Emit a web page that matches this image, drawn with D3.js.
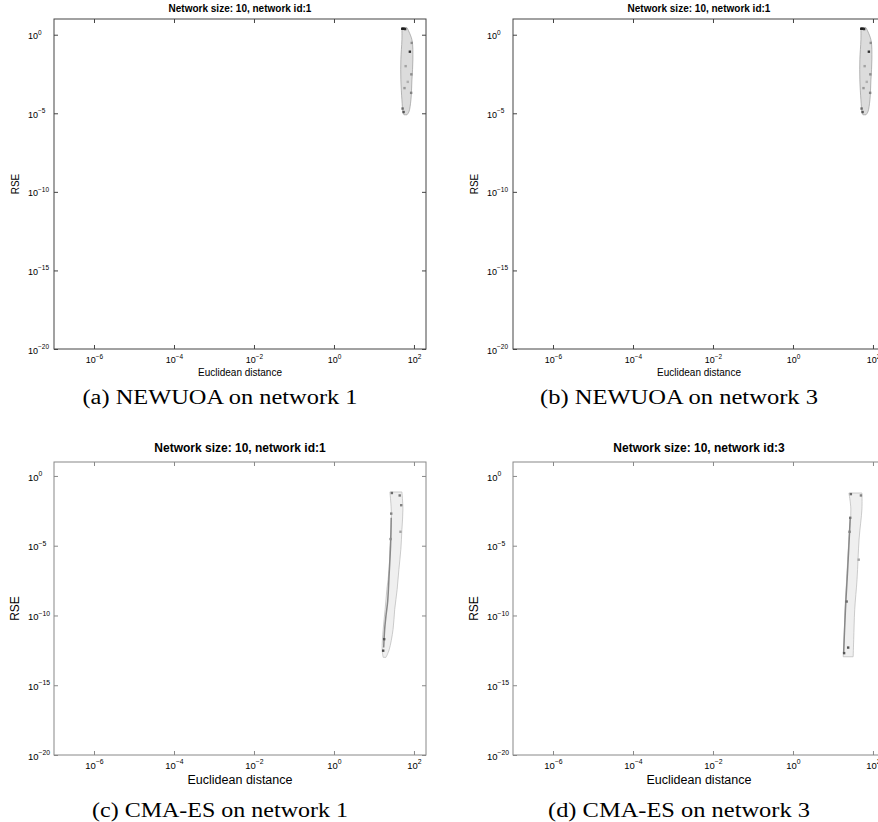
<!DOCTYPE html>
<html>
<head>
<meta charset="utf-8">
<script src="https://cdn.jsdelivr.net/npm/d3@7"></script>
<style>
  body { margin: 0; background: #fff; }
  svg { display: block; font-family: Helvetica, Arial, "Liberation Sans", sans-serif; }
  .caption { font-family: "Liberation Serif", "DejaVu Serif", serif; }
</style>
</head>
<body>
<svg id="fig" width="878" height="822"></svg>
<script>
// tick values (decades)
const X_TICKS = [1e-6, 1e-4, 1e-2, 1, 100];
const Y_TICKS = [1e-20, 1e-15, 1e-10, 1e-5, 1];

// NEWUOA, network 1 (same run shown in panels a and b)
const newuoaRse   = [2.8, 0.48, 0.026, 1.35e-3, 7.2e-5, 1.26e-5, 8e-6];
const newuoaLeft  = [50, 50, 47, 47, 50, 53, 56];
const newuoaRight = [67, 89, 94, 89, 84, 75, 67];
const newuoaSpeckX     = [51, 55, 60, 79, 88, 86, 85, 52, 55, 58, 62, 70];
const newuoaSpeckRse   = [2.4, 2.4, 2.3, 0.083, 0.3, 3e-3, 2e-4, 2e-5, 1.2e-5, 4e-4, 0.01, 1e-3];
const newuoaSpeckShade = [0.95, 0.95, 0.9, 0.85, 0.45, 0.45, 0.5, 0.6, 0.7, 0.4, 0.35, 0.3];

// CMA-ES, network 1
const cmaN1Rse   = [0.071, 4.3e-3, 1.5e-4, 5.6e-6, 2e-7, 7.4e-9, 2.7e-10, 1e-11, 3.5e-13, 1e-13];
const cmaN1Left  = [25, 27, 27, 25, 24, 21, 19, 17, 16, 17];
const cmaN1Right = [50, 53, 50, 47, 42, 38, 33, 30, 24, 20];
const cmaN1StreakX   = [27, 26, 24, 22, 20, 18.5, 17.5];
const cmaN1StreakRse = [1e-3, 1e-5, 1e-7, 1e-9, 1e-10, 1e-11, 5e-13];
const cmaN1SpeckX     = [28, 44, 48, 27, 26, 46, 18, 17];
const cmaN1SpeckRse   = [0.06, 0.04, 8e-3, 2e-3, 3e-5, 1e-4, 2e-12, 3e-13];
const cmaN1SpeckShade = [0.6, 0.55, 0.5, 0.5, 0.45, 0.35, 0.7, 0.75];

// CMA-ES, network 3
const cmaN3Rse   = [0.06, 4.3e-3, 3e-5, 3.9e-8, 2.7e-10, 1.9e-12, 1.1e-13];
const cmaN3Left  = [25, 28, 25, 22, 20, 19, 18];
const cmaN3Right = [53, 53, 45, 40, 35, 33, 32];
const cmaN3StreakX   = [27, 25, 23, 21, 19.5, 18.5];
const cmaN3StreakRse = [1e-3, 1e-5, 1e-7, 1e-9, 1e-11, 2e-13];
const cmaN3SpeckX     = [28, 50, 27, 26, 44, 22, 24, 19];
const cmaN3SpeckRse   = [0.05, 0.04, 1e-3, 1e-4, 1e-6, 1e-9, 5e-13, 2e-13];
const cmaN3SpeckShade = [0.6, 0.5, 0.55, 0.5, 0.35, 0.6, 0.7, 0.7];

const PANELS = [
  { left: 54, top: 19, bottom: 349, title: "Network size: 10, network id:1", caption: "(a) NEWUOA on network 1", capW: 275,
    rse: newuoaRse, l: newuoaLeft, r: newuoaRight, sx: newuoaSpeckX, sy: newuoaSpeckRse, ss: newuoaSpeckShade,
    small: true, axisColor: "#444" },
  { left: 513, top: 19, bottom: 349, title: "Network size: 10, network id:1", caption: "(b) NEWUOA on network 3", capW: 278,
    rse: newuoaRse, l: newuoaLeft, r: newuoaRight, sx: newuoaSpeckX, sy: newuoaSpeckRse, ss: newuoaSpeckShade,
    small: true, axisColor: "#444" },
  { left: 54, top: 462, bottom: 755, title: "Network size: 10, network id:1", caption: "(c) CMA-ES on network 1", capW: 256,
    rse: cmaN1Rse, l: cmaN1Left, r: cmaN1Right, sx: cmaN1SpeckX, sy: cmaN1SpeckRse, ss: cmaN1SpeckShade,
    stx: cmaN1StreakX, sty: cmaN1StreakRse, small: false, axisColor: "#888" },
  { left: 513, top: 462, bottom: 755, title: "Network size: 10, network id:3", caption: "(d) CMA-ES on network 3", capW: 262,
    rse: cmaN3Rse, l: cmaN3Left, r: cmaN3Right, sx: cmaN3SpeckX, sy: cmaN3SpeckRse, ss: cmaN3SpeckShade,
    stx: cmaN3StreakX, sty: cmaN3StreakRse, small: false, axisColor: "#888" },
];

const PW = 372;
const svg = d3.select("#fig");
const shade = d3.scaleLinear().domain([0, 1]).range(["#f2f2f2", "#111"]);

function powLabel(sel, v, baseSize) {
  const e = Math.round(Math.log10(v));
  sel.text(null);
  sel.append("tspan").text("10");
  sel.append("tspan")
    .attr("dy", -baseSize * 0.5)
    .attr("font-size", baseSize * 0.72)
    .text(String(e).replace("-", "\u2212"));
}

PANELS.forEach((p) => {
  const x = d3.scaleLog().domain([1e-7, 200]).range([p.left, p.left + PW]);
  const y = d3.scaleLog().domain([1e-20, 10]).range([p.bottom, p.top]);
  const fs = p.small ? { tick: 9, title: 10, label: 10 } : { tick: 9.5, title: 12, label: 12.5 };
  const g = svg.append("g");
  const cx = p.left + PW / 2;

  // blob
  const pts = p.rse.map((v, i) => ({ rse: v, l: p.l[i], r: p.r[i] }));
  const area = d3.area()
    .y((d) => y(d.rse))
    .x0((d) => x(d.l))
    .x1((d) => x(d.r))
    .curve(d3.curveCatmullRom);
  g.append("path").datum(pts)
    .attr("d", area)
    .attr("fill", p.small ? "#dcdcdc" : "#efefef")
    .attr("stroke", p.small ? "#9a9a9a" : "#b8b8b8")
    .attr("stroke-width", 0.7);

  if (p.stx) {
    const sp = p.stx.map((v, i) => ({ x: v, rse: p.sty[i] }));
    g.append("path").datum(sp)
      .attr("d", d3.line().x((d) => x(d.x)).y((d) => y(d.rse)).curve(d3.curveCatmullRom))
      .attr("fill", "none").attr("stroke", "#888").attr("stroke-width", 1.5);
  }

  const specks = p.sx.map((v, i) => ({ x: v, rse: p.sy[i], s: p.ss[i] }));
  g.selectAll("rect.speck").data(specks).enter().append("rect")
    .attr("class", "speck")
    .attr("x", (d) => x(d.x) - 1.2)
    .attr("y", (d) => y(d.rse) - 1.2)
    .attr("width", 2.4).attr("height", 2.4)
    .attr("fill", (d) => shade(d.s));

  // box and ticks
  g.append("rect")
    .attr("x", p.left).attr("y", p.top)
    .attr("width", PW).attr("height", p.bottom - p.top)
    .attr("fill", "none").attr("stroke", p.axisColor).attr("stroke-width", 1);

  const xb = g.append("g").attr("transform", `translate(0,${p.bottom})`)
    .call(d3.axisBottom(x).tickValues(X_TICKS).tickSize(-4).tickPadding(p.small ? 8 : 7).tickSizeOuter(0));
  const xt = g.append("g").attr("transform", `translate(0,${p.top})`)
    .call(d3.axisTop(x).tickValues(X_TICKS).tickSize(-4).tickFormat("").tickSizeOuter(0));
  const yl = g.append("g").attr("transform", `translate(${p.left},0)`)
    .call(d3.axisLeft(y).tickValues(Y_TICKS).tickSize(-4).tickSizeOuter(0));
  const yr = g.append("g").attr("transform", `translate(${p.left + PW},0)`)
    .call(d3.axisRight(y).tickValues(Y_TICKS).tickSize(-4).tickFormat("").tickSizeOuter(0));

  [xb, xt, yl, yr].forEach((a) => {
    a.select(".domain").remove();
    a.selectAll(".tick line").attr("stroke", p.axisColor);
  });

  xb.selectAll(".tick text")
    .attr("fill", "#000").attr("font-size", fs.tick).attr("font-family", null)
    .each(function (v) { powLabel(d3.select(this), v, fs.tick); });
  yl.selectAll(".tick text")
    .attr("fill", "#000").attr("font-size", fs.tick).attr("font-family", null)
    .attr("text-anchor", "start")
    .attr("x", -26).attr("dy", "0.45em")
    .each(function (v) { powLabel(d3.select(this), v, fs.tick); });

  // texts
  g.append("text")
    .attr("x", cx).attr("y", p.small ? p.top - 7 : p.top - 10)
    .attr("text-anchor", "middle").attr("font-weight", "bold")
    .attr("font-size", fs.title)
    .text(p.title);
  g.append("text")
    .attr("x", cx).attr("y", p.small ? p.bottom + 27 : p.bottom + 29)
    .attr("text-anchor", "middle").attr("font-size", fs.label)
    .text("Euclidean distance");
  g.append("text")
    .attr("transform", `translate(${p.left - 35},${(p.top + p.bottom) / 2}) rotate(-90)`)
    .attr("text-anchor", "middle").attr("font-size", p.small ? 10 : 12)
    .text("RSE");
  g.append("text")
    .attr("class", "caption")
    .attr("x", cx - 20).attr("y", p.small ? p.bottom + 55 : p.bottom + 62)
    .attr("text-anchor", "middle").attr("font-size", 20)
    .attr("textLength", p.capW).attr("lengthAdjust", "spacingAndGlyphs")
    .text(p.caption);
});
</script>
</body>
</html>
